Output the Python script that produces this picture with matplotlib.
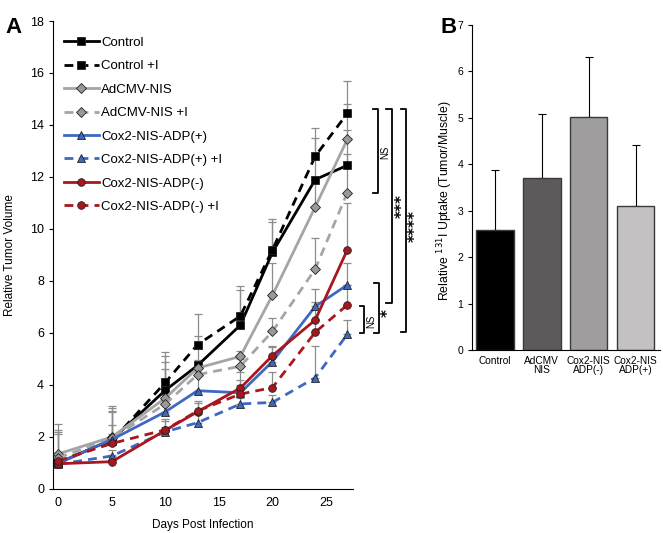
import matplotlib.pyplot as plt
import numpy as np

plt.rcParams['font.family'] = ['Liberation Sans', 'DejaVu Sans']

# ---- panel A data ----
days = [0, 5, 10, 13, 17, 20, 24, 27]

control = [1.0, 1.9, 3.8, 4.75, 6.3, 9.1, 11.9, 12.45]
control_i = [1.05, 1.85, 4.1, 5.55, 6.65, 9.2, 12.8, 14.45]
adcmv = [1.35, 2.0, 3.5, 4.65, 5.1, 7.45, 10.85, 13.45]
adcmv_i = [1.2, 1.95, 3.27, 4.4, 4.72, 6.06, 8.46, 11.4]
cox_p = [1.0, 1.9, 2.97, 3.78, 3.7, 4.9, 7.02, 7.85]
cox_p_i = [0.95, 1.27, 2.2, 2.55, 3.27, 3.33, 4.28, 5.95]
cox_m = [0.97, 1.05, 2.26, 2.97, 3.88, 5.13, 6.5, 9.2]
cox_m_i = [1.08, 1.75, 2.28, 3.0, 3.65, 3.9, 6.03, 7.08]

# upper ends of error bars
control_top = [2.2, 3.1, 5.1, 5.9, 7.65, 10.26, 13.5, 13.8]
control_i_top = [2.5, 3.2, 5.25, 6.73, 7.82, 10.4, 13.9, 15.7]
adcmv_top = [2.27, 3.0, 4.9, 4.95, 5.29, 8.7, 12.0, 14.8]
adcmv_i_top = [2.12, 2.95, 4.6, 4.9, 5.0, 6.58, 9.65, 12.9]
cox_p_top = [1.3, 2.45, 3.6, 4.5, 4.2, 5.45, 7.7, 8.7]
cox_p_i_top = [1.2, 1.5, 2.4, 2.9, 3.5, 3.6, 5.49, 6.5]
cox_m_top = [1.2, 1.3, 2.7, 3.3, 4.5, 5.5, 7.2, 11.0]
cox_m_i_top = [1.4, 2.1, 2.6, 3.4, 4.0, 4.5, 6.5, 7.85]

# ---- panel B data ----
groups = ['Control', 'AdCMV\nNIS', 'Cox2-NIS\nADP(-)', 'Cox2-NIS\nADP(+)']
uptake = [2.58, 3.7, 5.02, 3.1]
uptake_err = [1.3, 1.38, 1.3, 1.31]

BLUE = '#3f68c2'
RED = '#a8171e'
GRAY = '#a5a5a5'

series = [
    ('Control', control, control_top, 'black', '-', 's', 'black'),
    ('Control +I', control_i, control_i_top, 'black', '--', 's', 'black'),
    ('AdCMV-NIS', adcmv, adcmv_top, GRAY, '-', 'D', '#999999'),
    ('AdCMV-NIS +I', adcmv_i, adcmv_i_top, GRAY, '--', 'D', '#999999'),
    ('Cox2-NIS-ADP(+)', cox_p, cox_p_top, BLUE, '-', '^', BLUE),
    ('Cox2-NIS-ADP(+) +I', cox_p_i, cox_p_i_top, BLUE, '--', '^', BLUE),
    ('Cox2-NIS-ADP(-)', cox_m, cox_m_top, RED, '-', 'o', RED),
    ('Cox2-NIS-ADP(-) +I', cox_m_i, cox_m_i_top, RED, '--', 'o', RED),
]

fig = plt.figure(figsize=(6.63, 5.33), dpi=100)
ax = fig.add_axes([0.080, 0.0826, 0.452, 0.878])

for name, vals, tops, col, ls, mk, fc in series:
    err = np.array(tops) - np.array(vals)
    ax.errorbar(days, vals, yerr=[np.zeros(len(vals)), err], fmt='none',
                ecolor='#8c8c8c', elinewidth=0.9, capsize=3, capthick=0.9, zorder=1)
for name, vals, tops, col, ls, mk, fc in series:
    ms = 5.5 if mk in ('s', 'o', '^') else 5
    line, = ax.plot(days, vals, color=col, linestyle=ls, linewidth=2.0,
                    marker=mk, markersize=ms, markerfacecolor=fc,
                    markeredgecolor='#222222', markeredgewidth=0.6,
                    label=name, zorder=3)
    if ls == '--':
        line.set_dashes((3.2, 2.2))

ax.set_xlim(-0.5, 27.5)
ax.set_ylim(0, 18)
ax.set_xticks([0, 5, 10, 15, 20, 25])
ax.set_yticks(range(0, 19, 2))
ax.spines['top'].set_visible(False)
ax.spines['right'].set_visible(False)
ax.tick_params(axis='both', labelsize=9, length=3, width=0.8, direction='out')
ax.tick_params(axis='x', length=0, pad=6)
ax.set_xlabel('Days Post Infection', fontsize=8.5, labelpad=7)
ax.set_ylabel('Relative Tumor Volume', fontsize=8.5, labelpad=10)

ax.legend(loc='upper left', bbox_to_anchor=(0.02, 0.978), frameon=False,
          fontsize=9.5, handlelength=2.6, handletextpad=0.2,
          labelspacing=0.85, borderaxespad=0)

# significance brackets (drawn outside the axes)
def bracket(x, y0, y1, tick=0.5):
    ax.plot([x - tick, x, x, x - tick], [y0, y0, y1, y1], color='black',
            linewidth=1.3, clip_on=False)

bracket(29.9, 14.6, 11.4)
bracket(31.15, 14.6, 7.15, tick=0.5)
bracket(32.5, 14.6, 6.05, tick=0.5)
bracket(28.6, 7.05, 6.0, tick=0.45)
bracket(29.95, 7.93, 6.0, tick=0.45)
ax.text(30.5, 12.95, 'NS', rotation=90, fontsize=7, ha='center', va='center')
ax.text(29.2, 6.45, 'NS', rotation=90, fontsize=7, ha='center', va='center')
star = dict(rotation=90, fontsize=11, fontweight='bold', family='DejaVu Sans',
            ha='center', va='center')
ax.text(32.1, 10.9, '***', **star)
ax.text(33.35, 10.1, '****', **star)
ax.text(30.85, 6.75, '*', **star)

fig.text(0.008, 0.938, 'A', fontsize=16, fontweight='bold')
fig.text(0.664, 0.938, 'B', fontsize=16, fontweight='bold')

# ---- panel B ----
bx = fig.add_axes([0.7124, 0.3433, 0.2831, 0.6097])
pos = np.arange(len(groups))
bx.bar(pos, uptake, width=0.8, color=['black', '#5e5a5b', '#a09d9e', '#c3c1c2'],
       edgecolor='#3a3a3a', linewidth=1.0, zorder=2)
bx.errorbar(pos, uptake, yerr=[np.zeros(4), uptake_err], fmt='none',
            ecolor='black', elinewidth=0.8, capsize=3, capthick=0.8, zorder=1)
bx.set_xlim(-0.48, 3.52)
bx.set_ylim(0, 7)
bx.set_yticks(range(8))
bx.set_xticks(pos)
bx.set_xticklabels(groups, fontsize=7.3, linespacing=0.9)
bx.spines['top'].set_visible(False)
bx.spines['right'].set_visible(False)
bx.tick_params(axis='y', labelsize=7.5, length=3, width=0.8)
bx.tick_params(axis='x', length=0, pad=4)
bx.set_ylabel('Relative $^{131}$I Uptake (Tumor/Muscle)', fontsize=8.8, labelpad=3)
bx.yaxis.set_label_coords(-0.09, 0.46)

fig.savefig('out.png', dpi=100)
